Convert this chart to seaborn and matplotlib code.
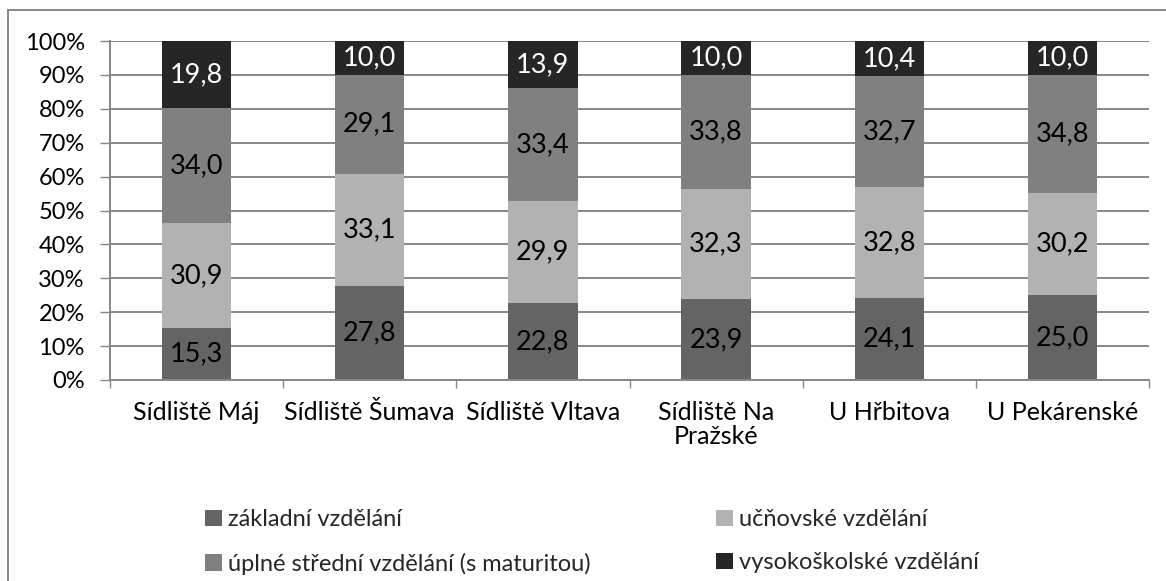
import numpy as np
import pandas as pd
import matplotlib
matplotlib.use('Agg')
import matplotlib.pyplot as plt
import seaborn as sns
from matplotlib.patches import Patch
from matplotlib.lines import Line2D

# data (percent shares per locality)
lokality = ['Sídliště Máj', 'Sídliště Šumava', 'Sídliště Vltava',
            'Sídliště Na\nPražské', 'U Hřbitova', 'U Pekárenské']
zakladni = [15.3, 27.8, 22.8, 23.9, 24.1, 25.0]
ucnovske = [30.9, 33.1, 29.9, 32.3, 32.8, 30.2]
stredni = [34.0, 29.1, 33.4, 33.8, 32.7, 34.8]
vysokoskolske = [19.8, 10.0, 13.9, 10.0, 10.4, 10.0]

serie = ['základní vzdělání', 'učňovské vzdělání',
         'úplné střední vzdělání (s maturitou)', 'vysokoškolské vzdělání']
barvy = ['#646464', '#b2b2b2', '#808080', '#262626']
barvy_textu = ['black', 'black', 'black', 'white']

sns.set_theme(style='white')
plt.rcParams['font.family'] = ['Lato', 'DejaVu Sans']

df = pd.DataFrame({'lokalita': lokality, serie[0]: zakladni, serie[1]: ucnovske,
                   serie[2]: stredni, serie[3]: vysokoskolske})
hodnoty = df[serie].to_numpy()
kumul = hodnoty.cumsum(axis=1)

W, H = 1166, 581
fig = plt.figure(figsize=(W / 100, H / 100), dpi=100)
ax = fig.add_axes([110 / W, 1 - 380 / H, (1149 - 110) / W, (380 - 41) / H])

grid_c = '#878787'
ax.set_axisbelow(True)
ax.yaxis.grid(True, color=grid_c, linewidth=1.4)

# stacked bars: draw cumulative totals from top layer down
for i in range(len(serie) - 1, -1, -1):
    sns.barplot(x=df['lokalita'], y=kumul[:, i], color=barvy[i], width=0.4,
                saturation=1, ax=ax, linewidth=0, zorder=2)

for j in range(len(lokality)):
    for i in range(len(serie)):
        stred = kumul[j, i] - hodnoty[j, i] / 2
        ax.text(j, stred, f'{hodnoty[j, i]:.1f}'.replace('.', ','),
                ha='center', va='center', fontsize=19.5, color=barvy_textu[i], zorder=3)

ax.set_ylim(0, 100)
ax.set_xlim(-0.5, len(lokality) - 0.5)
ax.set_yticks(np.arange(0, 101, 10))
ax.set_yticklabels([f'{v}%' for v in range(0, 101, 10)])
ax.set_xlabel('')
ax.set_ylabel('')

for s in ['top', 'right']:
    ax.spines[s].set_visible(False)
for s in ['left', 'bottom']:
    ax.spines[s].set_color(grid_c)
    ax.spines[s].set_linewidth(1.4)

ax.tick_params(axis='y', length=7.2, width=1.0, color=grid_c, pad=11, labelsize=17,
               left=True, labelcolor='black')
ax.tick_params(axis='x', which='major', length=0, pad=15, labelsize=18, labelcolor='black')
ax.set_xticks(np.arange(-0.5, len(lokality)), minor=True)
ax.tick_params(axis='x', which='minor', length=5.8, width=1.0, color=grid_c, bottom=True)
for t in ax.get_xticklabels():
    t.set_linespacing(1.05)

# outer chart frame (only left and top visible in the crop)
fig.add_artist(Line2D([8 / W, 8 / W], [0, 1 - 10 / H], color=grid_c, linewidth=1.4))
fig.add_artist(Line2D([8 / W, 1], [1 - 10 / H, 1 - 10 / H], color=grid_c, linewidth=1.4))

handles = [Patch(facecolor=barvy[i], edgecolor='none') for i in range(len(serie))]
order = [0, 2, 1, 3]
fig.legend([handles[k] for k in order], [serie[k] for k in order], ncol=2,
           loc='lower left', bbox_to_anchor=(196 / W, 1 - 584 / H, (988 - 196) / W, 0.1),
           mode='expand', frameon=False, fontsize=17, handlelength=0.7, handleheight=0.7,
           handletextpad=0.25, labelspacing=0.95, borderaxespad=0)

fig.savefig('out.png', dpi=100)
